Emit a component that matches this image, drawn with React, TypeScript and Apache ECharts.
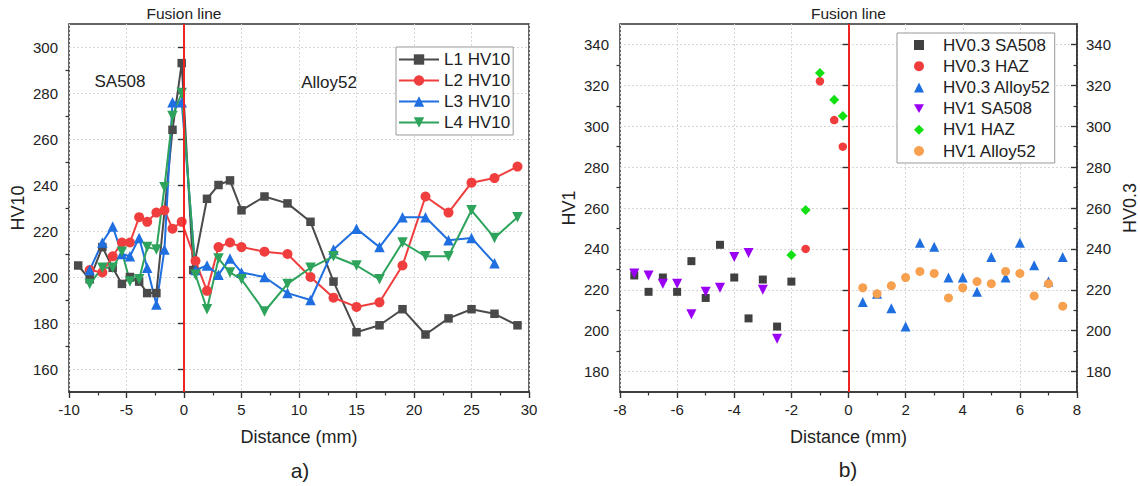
import React, { useEffect, useRef } from 'react';
import * as echarts from 'echarts';

const FONT = '"Liberation Sans", Arial, Helvetica, sans-serif';

// ---------- chart a) ----------
const l1Distance = [-9.2, -8.2, -7.1, -6.2, -5.4, -4.7, -3.9, -3.2, -2.4, -1.0, -0.2, 0.8, 2, 3, 4, 5, 7, 9, 11, 13, 15, 17, 19, 21, 23, 25, 27, 29];
const l1Hv10 = [205, 199, 213, 204, 197, 200, 198, 193, 193, 264, 293, 203, 234, 240, 242, 229, 235, 232, 224, 198, 176, 179, 186, 175, 182, 186, 184, 179];

const l2Distance = [-8.2, -7.1, -6.2, -5.4, -4.7, -3.9, -3.2, -2.4, -1.7, -1.0, -0.2, 1, 2, 3, 4, 5, 7, 9, 11, 13, 15, 17, 19, 21, 23, 25, 27, 29];
const l2Hv10 = [203, 202, 209, 215, 215, 226, 224, 228, 229, 221, 224, 207, 194, 213, 215, 213, 211, 210, 200, 191, 187, 189, 205, 235, 228, 241, 243, 248];

const l3Distance = [-8.2, -7.1, -6.2, -5.4, -4.7, -3.9, -3.2, -2.4, -1.7, -1.0, -0.2, 1, 2, 3, 4, 5, 7, 9, 11, 13, 15, 17, 19, 21, 23, 25, 27];
const l3Hv10 = [203, 215, 222, 210, 209, 217, 204, 188, 212, 276, 276, 203, 205, 201, 208, 202, 200, 193, 190, 212, 221, 213, 226, 226, 216, 217, 206];

const l4Distance = [-8.2, -7.1, -6.2, -5.4, -4.7, -3.9, -3.2, -2.4, -1.7, -1.0, -0.2, 1, 2, 3, 4, 5, 7, 9, 11, 13, 15, 17, 19, 21, 23, 25, 27, 29];
const l4Hv10 = [197, 204, 204, 211, 198, 199, 213, 212, 239, 270, 280, 201, 186, 208, 202, 199, 185, 197, 204, 209, 205, 199, 215, 209, 209, 229, 217, 226];

const aYTicks = [160, 180, 200, 220, 240, 260, 280, 300];
const aYMinorTicks = [170, 190, 210, 230, 250, 270, 290];

// ---------- chart b) ----------
const hv03Sa508Dist = [-7.5, -7, -6.5, -6, -5.5, -5, -4.5, -4, -3.5, -3, -2.5, -2];
const hv03Sa508 = [227, 219, 226, 219, 234, 216, 242, 226, 206, 225, 202, 224];
const hv03HazDist = [-1.5, -1, -0.5, -0.2];
const hv03Haz = [240, 322, 303, 290];
const hv03AlloyDist = [0.5, 1, 1.5, 2, 2.5, 3, 3.5, 4, 4.5, 5, 5.5, 6, 6.5, 7, 7.5];
const hv03Alloy = [214, 218, 211, 202, 243, 241, 226, 226, 219, 236, 226, 243, 232, 224, 236];
const hv1Sa508Dist = [-7.5, -7, -6.5, -6, -5.5, -5, -4.5, -4, -3.5, -3, -2.5];
const hv1Sa508 = [228, 227, 223, 223, 208, 219, 221, 236, 238, 220, 196];
const hv1HazDist = [-2, -1.5, -1, -0.5, -0.2];
const hv1Haz = [237, 259, 326, 313, 305];
const hv1AlloyDist = [0.5, 1, 1.5, 2, 2.5, 3, 3.5, 4, 4.5, 5, 5.5, 6, 6.5, 7, 7.5];
const hv1Alloy = [221, 218, 222, 226, 229, 228, 216, 221, 224, 223, 229, 228, 217, 223, 212];

const bYTicks = [180, 200, 220, 240, 260, 280, 300, 320, 340];
const bYMinorTicks = [190, 210, 230, 250, 270, 290, 310, 330];

const zip = (xs: number[], ys: number[]) => xs.map((x, i) => [x, ys[i]]);

const DOWN_TRI = 'path://M0,0L10,0L5,8.66Z';
const AXIS_COLOR = '#333';
const TEXT_COLOR = '#222';
const RED_LINE = '#ff2020';
const GRID_LINE = { show: true, lineStyle: { color: '#d6d6d6', width: 1, type: [2, 2] as any } };

function mainY(gridIndex: number, min: number, max: number, ticks: number[], name: string, position: 'left' | 'right', inside: boolean, showSplit: boolean) {
  return {
    type: 'value',
    gridIndex,
    position,
    min,
    max,
    interval: 10,
    name,
    nameLocation: 'middle',
    nameGap: position === 'left' ? 42 : 44,
    nameTextStyle: { fontFamily: FONT, fontSize: 18, color: TEXT_COLOR },
    axisLine: { show: true, lineStyle: { color: AXIS_COLOR, width: 1.6 } },
    axisTick: { show: true, inside, length: 6, customValues: ticks, lineStyle: { color: AXIS_COLOR, width: 1.4 } },
    axisLabel: { show: true, customValues: ticks, margin: inside ? 9 : 11, fontFamily: FONT, fontSize: 15, color: TEXT_COLOR },
    splitLine: showSplit ? GRID_LINE : { show: false },
    minorTick: { show: false },
  };
}

function minorY(gridIndex: number, min: number, max: number, ticks: number[], position: 'left' | 'right', inside: boolean) {
  return {
    type: 'value',
    gridIndex,
    position,
    min,
    max,
    interval: 10,
    axisLine: { show: false },
    axisTick: { show: true, inside, length: 3.5, customValues: ticks, lineStyle: { color: AXIS_COLOR, width: 1.2 } },
    axisLabel: { show: false },
    splitLine: { show: false },
  };
}

function xAx(gridIndex: number, min: number, max: number, interval: number) {
  return {
    type: 'value',
    gridIndex,
    min,
    max,
    interval,
    name: 'Distance (mm)',
    nameLocation: 'middle',
    nameGap: 36,
    nameTextStyle: { fontFamily: FONT, fontSize: 18, color: TEXT_COLOR },
    axisLine: { show: true, onZero: false, lineStyle: { color: AXIS_COLOR, width: 1.6 } },
    axisTick: { show: true, length: 6, lineStyle: { color: AXIS_COLOR, width: 1.4 } },
    minorTick: { show: true, splitNumber: 2, length: 3.5, lineStyle: { color: AXIS_COLOR, width: 1.2 } },
    axisLabel: { margin: 10, fontFamily: FONT, fontSize: 15, color: TEXT_COLOR },
    splitLine: GRID_LINE,
  };
}

function fusionLine() {
  return {
    silent: true,
    symbol: ['none', 'none'],
    lineStyle: { color: RED_LINE, width: 1.8, type: 'solid', opacity: 1 },
    emphasis: { disabled: true },
    label: {
      show: true,
      position: 'end',
      distance: 3,
      formatter: 'Fusion line',
      fontFamily: FONT,
      fontSize: 15.5,
      color: TEXT_COLOR,
    },
    data: [{ xAxis: 0 }],
  };
}

function lineSeries(name: string, data: number[][], color: string, symbol: string, size: number, extra: any = {}) {
  return {
    type: 'line',
    name,
    xAxisIndex: 0,
    yAxisIndex: 0,
    data,
    symbol,
    symbolSize: size,
    showAllSymbol: true,
    lineStyle: { color, width: 2 },
    itemStyle: { color, borderWidth: 0 },
    z: 3,
    ...extra,
  };
}

function scatterSeries(name: string, data: number[][], color: string, symbol: string, size: number, yAxisIndex: number, extra: any = {}) {
  return {
    type: 'scatter',
    name,
    xAxisIndex: 1,
    yAxisIndex,
    data,
    symbol,
    symbolSize: size,
    itemStyle: { color, opacity: 1 },
    z: 3,
    ...extra,
  };
}

export default function App() {
  const ref = useRef<HTMLDivElement>(null);

  useEffect(() => {
    if (!ref.current) return;
    const chart = echarts.init(ref.current, undefined, { renderer: 'svg' });

    const option: any = {
      animation: false,
      backgroundColor: '#ffffff',
      textStyle: { fontFamily: FONT },
      grid: [
        { left: 69, right: 611, top: 24, bottom: 94, show: true, borderColor: AXIS_COLOR, borderWidth: 1.5, backgroundColor: 'transparent' },
        { left: 620, right: 62, top: 24, bottom: 94, show: true, borderColor: AXIS_COLOR, borderWidth: 1.5, backgroundColor: 'transparent' },
      ],
      xAxis: [xAx(0, -10, 30, 5), xAx(1, -8, 8, 2)],
      yAxis: [
        mainY(0, 150, 310, aYTicks, 'HV10', 'left', false, true),
        minorY(0, 150, 310, aYMinorTicks, 'left', false),
        mainY(1, 170, 350, bYTicks, 'HV1', 'left', false, true),
        minorY(1, 170, 350, bYMinorTicks, 'left', false),
        mainY(1, 170, 350, bYTicks, 'HV0.3', 'right', true, false),
        minorY(1, 170, 350, bYMinorTicks, 'right', true),
      ],
      legend: [
        {
          orient: 'vertical',
          left: 396,
          top: 47,
          padding: [4, 3, 4, 2],
          itemWidth: 40,
          itemHeight: 13,
          itemGap: 4,
          borderColor: '#999',
          borderWidth: 1,
          borderRadius: 0,
          backgroundColor: '#fff',
          selectedMode: false,
          textStyle: { fontFamily: FONT, fontSize: 17, lineHeight: 17, color: TEXT_COLOR },
          data: ['L1 HV10', 'L2 HV10', 'L3 HV10', 'L4 HV10'],
        },
        {
          orient: 'vertical',
          left: 897,
          top: 33,
          padding: [3.5, 4, 3.5, 17],
          itemWidth: 10,
          itemHeight: 10,
          itemGap: 4.2,
          borderColor: '#999',
          borderWidth: 1,
          borderRadius: 0,
          backgroundColor: '#fff',
          selectedMode: false,
          textStyle: { fontFamily: FONT, fontSize: 17, lineHeight: 17, color: TEXT_COLOR, padding: [0, 0, 0, 14] },
          data: ['HV0.3 SA508', 'HV0.3 HAZ', 'HV0.3 Alloy52', 'HV1 SA508', 'HV1 HAZ', 'HV1 Alloy52'],
        },
      ],
      graphic: [
        { type: 'text', x: 120, y: 81, style: { text: 'SA508', font: `17px ${FONT}`, fill: TEXT_COLOR, textAlign: 'center', textVerticalAlign: 'middle', align: 'center', verticalAlign: 'middle' } },
        { type: 'text', x: 329, y: 82, style: { text: 'Alloy52', font: `17px ${FONT}`, fill: TEXT_COLOR, textAlign: 'center', textVerticalAlign: 'middle', align: 'center', verticalAlign: 'middle' } },
        { type: 'text', x: 300, y: 470, style: { text: 'a)', font: `21px ${FONT}`, fill: TEXT_COLOR, textAlign: 'center', textVerticalAlign: 'middle', align: 'center', verticalAlign: 'middle' } },
        { type: 'text', x: 848, y: 469, style: { text: 'b)', font: `21px ${FONT}`, fill: TEXT_COLOR, textAlign: 'center', textVerticalAlign: 'middle', align: 'center', verticalAlign: 'middle' } },
      ],
      series: [
        lineSeries('L1 HV10', zip(l1Distance, l1Hv10), '#4a4a4a', 'rect', 8.5, { markLine: fusionLine() }),
        lineSeries('L2 HV10', zip(l2Distance, l2Hv10), '#f03e3e', 'circle', 10),
        lineSeries('L3 HV10', zip(l3Distance, l3Hv10), '#1f6fe0', 'triangle', 10.5),
        lineSeries('L4 HV10', zip(l4Distance, l4Hv10), '#2ea35c', DOWN_TRI, 10.5),

        scatterSeries('HV0.3 SA508', zip(hv03Sa508Dist, hv03Sa508), '#404040', 'rect', 8, 4, { markLine: fusionLine() }),
        scatterSeries('HV0.3 HAZ', zip(hv03HazDist, hv03Haz), '#f03c3c', 'circle', 8.5, 4),
        scatterSeries('HV0.3 Alloy52', zip(hv03AlloyDist, hv03Alloy), '#1f6ee0', 'triangle', 10, 4),
        scatterSeries('HV1 SA508', zip(hv1Sa508Dist, hv1Sa508), '#9a00f5', DOWN_TRI, 10, 2),
        scatterSeries('HV1 HAZ', zip(hv1HazDist, hv1Haz), '#12e012', 'diamond', 10, 2),
        scatterSeries('HV1 Alloy52', zip(hv1AlloyDist, hv1Alloy), '#f7a04f', 'circle', 9, 2),
      ],
    };

    chart.setOption(option);
    return () => {
      chart.dispose();
    };
  }, []);

  return (
    <div
      ref={ref}
      style={{ position: 'fixed', left: 0, top: 0, width: 1140, height: 486, background: '#fff' }}
    />
  );
}
